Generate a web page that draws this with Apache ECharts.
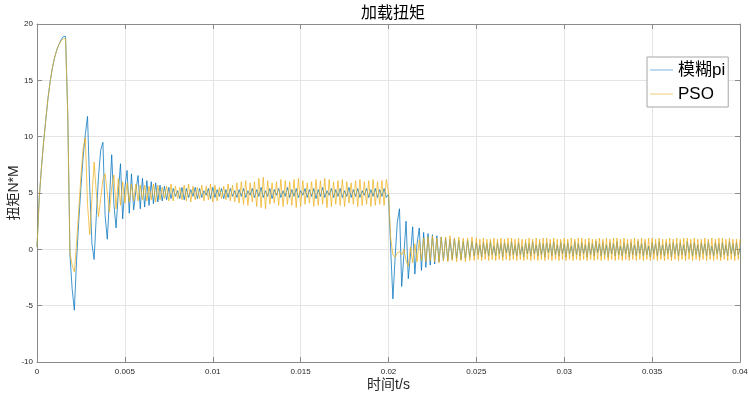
<!DOCTYPE html>
<html><head><meta charset="utf-8">
<script src="https://cdn.jsdelivr.net/npm/echarts@6/dist/echarts.min.js"></script>
<style>html,body{margin:0;padding:0;background:#fff}#c{width:749px;height:394px}</style>
</head><body><div id="c"></div>
<script>
const titleText = '加载扭矩';
const xName = '时间t/s';
const yName = '扭矩N*M';
const seriesNames = ['模糊pi', 'PSO'];
// sampling: first part (0 .. 0.025 s) and last part (0.025 .. 0.04 s)
const part1Start = 0, part1Step = 0.000125;
const part2Start = 0.025, part2Step = 0.0001;
const xMin = 0, xMax = 0.04, xInterval = 0.005;
const yMin = -10, yMax = 20, yInterval = 5;

// 模糊pi samples, part 1
const piStart = [0.2,4.5,7.2,9.5,11.5,13.4,14.9,16.1,17.0,17.7,
18.2,18.6,18.9,18.9,12.0,-0.5,-3.5,-5.4,-1.0,2.5,
5.5,8.2,10.2,11.8,5.5,0.5,-0.9,3.0,6.5,8.8,
9.5,3.0,0.9,4.5,8.4,4.0,1.9,5.0,7.6,2.7,
5.5,7.0,3.2,6.7,3.5,5.2,6.55,3.6,6.3,3.75,
6.1,3.9,6.0,4.05,5.9,4.2,5.7,4.3];
const piMid = [5.6,4.4,5.5,4.5,5.4,4.7,5.2,4.5,5.5,4.4,
5.4,4.6,5.3,4.7,5.5,4.5,5.4,4.6,5.2,4.8,
5.4,4.5,5.5,4.6,5.3,4.7,5.4,4.5,5.3,4.6,
5.4,4.7,5.2,4.6];
const piHigh = [5.3,4.7,5.4,4.6,5.2,4.8,5.4,4.6,5.3,4.7,
5.5,4.6,5.2,4.7,5.4,4.5,5.3,4.8,5.4,4.6,
5.2,4.7,5.5,4.6,5.3,4.7,5.4,4.6,5.2,4.8,
5.4,4.6,5.3,4.7,5.4,4.5,5.3,4.7,5.5,4.6,
5.2,4.8,5.4,4.6,5.3,4.7,5.4,4.6,5.2,4.7,
5.5,4.6,5.3,4.7,5.4,4.6,5.2,4.8,5.4,4.6,
5.3,4.7,5.4,4.6,5.3,4.7,5.4,4.6];
const piDrop = [4.9,0.0,-4.4,-0.8,2.4,3.6,-3.3,-0.5,2.5,-2.6,
-0.5,2.0,-2.2,0.5,1.9,-1.87,1.5,-1.6,1.4,-1.4,
1.3,-1.3,1.2,-1.1,1.1,-1.0,1.0,-1.0,0.9,-0.9,
1.0,-0.8,0.8,-0.9,0.7,-0.8,0.8,-0.7,0.7,-0.6];
// 模糊pi samples, part 2
const piEnd = [0.6,-0.5,0.4,-0.7,0.6,-0.4,0.5,-0.6,0.7,-0.5,
0.3,-0.6,0.6,-0.4,0.5,-0.7,0.6,-0.3,0.5,-0.6,
0.7,-0.5,0.4,-0.6,0.6,-0.5,0.3,-0.7,0.6,-0.4,
0.5,-0.6,0.7,-0.4,0.4,-0.6,0.6,-0.5,0.5,-0.7,
0.6,-0.3,0.5,-0.6,0.7,-0.5,0.4,-0.6,0.6,-0.4,
0.5,-0.7,0.6,-0.4,0.3,-0.6,0.7,-0.5,0.5,-0.6,
0.6,-0.4,0.4,-0.7,0.6,-0.5,0.5,-0.6,0.7,-0.3,
0.5,-0.6,0.6,-0.5,0.4,-0.7,0.6,-0.4,0.5,-0.6,
0.7,-0.5,0.3,-0.6,0.6,-0.4,0.5,-0.7,0.6,-0.5,
0.4,-0.6,0.7,-0.4,0.5,-0.6,0.6,-0.5,0.3,-0.7,
0.6,-0.4,0.5,-0.6,0.7,-0.5,0.4,-0.6,0.6,-0.4,
0.5,-0.7,0.6,-0.4,0.5,-0.6,0.6,-0.5,0.4,-0.6,
0.7,-0.3,0.5,-0.6,0.6,-0.5,0.4,-0.7,0.6,-0.4,
0.5,-0.6,0.7,-0.5,0.3,-0.6,0.6,-0.4,0.5,-0.7,
0.6,-0.5,0.4,-0.6,0.7,-0.4,0.5,-0.6,0.6,-0.5,
0.1];

// PSO samples, part 1
const psoStart = [0.2,4.5,7.2,9.5,11.5,13.4,14.9,16.1,17.0,17.7,
18.2,18.5,18.7,18.7,12.0,-0.3,-1.4,-2.0,0.5,3.5,
6.5,9.0,9.9,4.0,1.3,4.5,7.75,5.0,2.9,4.5,
6.2,6.7,5.0,3.3,5.5,6.6,3.6,6.3,3.9,6.0,
4.1,5.9,4.2,5.8,4.3,5.8,4.3,5.7,4.4];
const psoMid = [5.7,4.3,5.6,4.4,5.8,4.2,5.7,4.4,5.5,4.5,
5.6,4.3,5.8,4.3,5.6,4.5,5.5,4.4,5.7,4.3,
5.8,4.2,5.6,4.4,5.5,4.5,5.7,4.3,5.6,4.4,
5.8,4.2,5.7,4.3,5.5,4.5,5.6,4.4,5.8,4.3,
5.7,4.2,5.9,4.1,6.0];
const psoHigh = [4.0,6.1,3.9,5.9,4.2,6.0,3.8,6.3,3.7,6.4,
3.6,6.1,4.0,5.9,4.1,6.0,3.9,6.2,3.8,6.1,
4.0,6.0,3.9,6.2,3.7,6.3,3.8,6.1,4.0,5.9,
4.1,6.0,3.8,6.2,3.9,6.1,4.0,6.3,3.7,6.2,
3.8,6.0,4.0,6.1,3.9,6.2,3.8,6.0,4.1,5.9,
4.0,6.1,3.8,6.2,3.9,6.0,4.0,6.1,3.8,6.2,
3.9,6.0,4.0,6.1,3.9,6.2];
const psoDrop = [5.0,1.0,-0.5,-0.7,-0.3,-0.2,-0.5,0.0,-1.0,-1.5,
0.2,-1.2,0.5,-1.1,0.8,-1.0,1.0,
-1.1,1.1,-1.0,1.2,-1.1,1.0,-1.2,1.1,-1.0,1.1,
-1.1,1.2,-1.0,1.0,-1.1,1.1,-1.0,1.0,-1.1,1.0,
-1.0,1.1,-1.0];
// PSO samples, part 2
const psoEnd = [1.0,-0.9,0.9,-1.0,1.0,-0.9,0.9,-1.0,0.9,-0.9,
1.0,-1.0,0.9,-0.9,1.0,-1.0,0.9,-0.9,1.0,-1.0,
1.0,-0.9,0.9,-1.0,1.0,-0.9,0.9,-1.0,0.9,-0.9,
1.0,-1.0,0.9,-0.9,1.0,-1.0,0.9,-0.9,1.0,-1.0,
1.0,-0.9,0.9,-1.0,1.0,-0.9,0.9,-1.0,0.9,-0.9,
1.0,-1.0,0.9,-0.9,1.0,-1.0,0.9,-0.9,1.0,-1.0,
1.0,-0.9,0.9,-1.0,1.0,-0.9,0.9,-1.0,0.9,-0.9,
1.0,-1.0,0.9,-0.9,1.0,-1.0,0.9,-0.9,1.0,-1.0,
1.0,-0.9,0.9,-1.0,1.0,-0.9,0.9,-1.0,0.9,-0.9,
1.0,-1.0,0.9,-0.9,1.0,-1.0,0.9,-0.9,1.0,-1.0,
1.0,-0.9,0.9,-1.0,1.0,-0.9,0.9,-1.0,0.9,-0.9,
1.0,-1.0,0.9,-0.9,1.0,-1.0,0.9,-0.9,1.0,-1.0,
1.0,-0.9,0.9,-1.0,1.0,-0.9,0.9,-1.0,0.9,-0.9,
1.0,-1.0,0.9,-0.9,1.0,-1.0,0.9,-0.9,1.0,-1.0,
1.0,-0.9,0.9,-1.0,1.0,-0.9,0.9,-1.0,0.9,-0.9,
0.9];

const toPairs = (vals, t0, dt) => vals.map((v, i) => [+(t0 + i * dt).toFixed(7), v]);
const piData = toPairs(piStart.concat(piMid, piHigh, piDrop), part1Start, part1Step)
  .concat(toPairs(piEnd, part2Start, part2Step));
const psoData = toPairs(psoStart.concat(psoMid, psoHigh, psoDrop), part1Start, part1Step)
  .concat(toPairs(psoEnd, part2Start, part2Step));

const FONT = '"Liberation Sans", Arial, "Noto Sans CJK SC", sans-serif';
const axisGray = '#8a8a8a';
const gridGray = '#e4e4e4';

const chart = echarts.init(document.getElementById('c'), null, {renderer: 'canvas'});
const baseX = {
  type: 'value', min: xMin, max: xMax, interval: xInterval,
  axisLine: {show: true, onZero: false, lineStyle: {color: axisGray, width: 1}},
  axisTick: {show: true, inside: true, length: 5, lineStyle: {color: axisGray}},
};
const baseY = {
  type: 'value', min: yMin, max: yMax, interval: yInterval,
  axisLine: {show: true, onZero: false, lineStyle: {color: axisGray, width: 1}},
  axisTick: {show: true, inside: true, length: 5, lineStyle: {color: axisGray}},
};
chart.setOption({
  animation: false,
  backgroundColor: '#ffffff',
  title: {
    text: titleText, left: 388, top: 1, textAlign: 'center',
    textStyle: {fontFamily: FONT, fontSize: 16, fontWeight: 'normal', color: '#000'}
  },
  grid: {left: 37, right: 9, top: 24, bottom: 32, containLabel: false, outerBoundsMode: 'none'},
  legend: {
    data: [
      {name: seriesNames[0], itemStyle: {color: '#8fbfe4'}},
      {name: seriesNames[1], itemStyle: {color: '#f3d48e'}}
    ],
    icon: 'rect', orient: 'vertical', left: 647, top: 57,
    backgroundColor: '#ffffff', borderColor: '#a6a6a6', borderWidth: 1,
    padding: [3, 3, 3, 3], itemGap: 4, itemWidth: 23, itemHeight: 1.2,
    textStyle: {fontFamily: FONT, fontSize: 17, color: '#000', lineHeight: 20}
  },
  xAxis: [
    Object.assign({}, baseX, {
      position: 'bottom',
      name: xName, nameLocation: 'middle', nameGap: 16, nameMoveOverlap: false,
      nameTextStyle: {fontFamily: FONT, fontSize: 14, color: '#262626'},
      axisLabel: {fontFamily: FONT, fontSize: 8, color: '#262626', margin: 6},
      splitLine: {show: true, lineStyle: {color: gridGray, width: 1}}
    }),
    Object.assign({}, baseX, {
      position: 'top', axisLabel: {show: false}, splitLine: {show: false}
    })
  ],
  yAxis: [
    Object.assign({}, baseY, {
      position: 'left',
      name: yName, nameLocation: 'middle', nameGap: 16, nameMoveOverlap: false,
      nameTextStyle: {fontFamily: FONT, fontSize: 14, color: '#262626'},
      axisLabel: {fontFamily: FONT, fontSize: 8, color: '#262626', margin: 4},
      splitLine: {show: true, lineStyle: {color: gridGray, width: 1}}
    }),
    Object.assign({}, baseY, {
      position: 'right', axisLabel: {show: false}, splitLine: {show: false}
    })
  ],
  series: [
    {
      name: seriesNames[0], type: 'line', xAxisIndex: 0, yAxisIndex: 0,
      data: piData, showSymbol: false, symbol: 'none',
      color: '#0072BD', lineStyle: {color: '#0072BD', width: 0.75}, z: 2
    },
    {
      name: seriesNames[1], type: 'line', xAxisIndex: 0, yAxisIndex: 0,
      data: psoData, showSymbol: false, symbol: 'none',
      color: '#EDB120', lineStyle: {color: '#EDB120', width: 0.75}, z: 3
    }
  ]
});
</script></body></html>
